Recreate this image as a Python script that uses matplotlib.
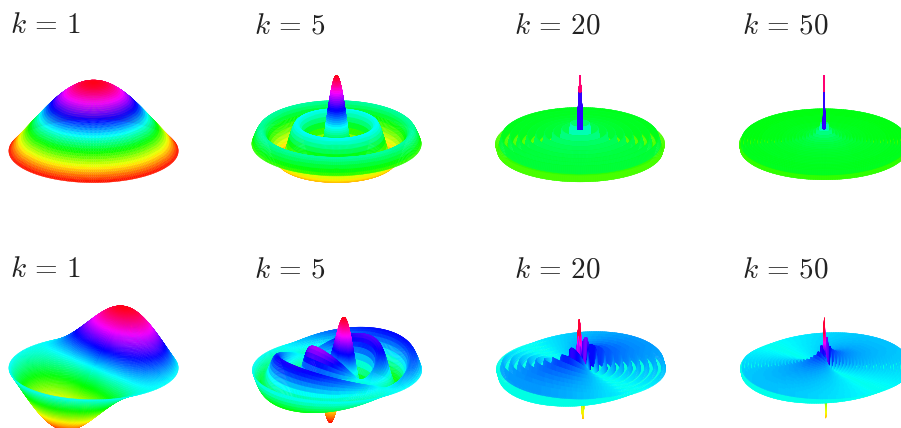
import numpy as np
import matplotlib
matplotlib.use("Agg")
import matplotlib.pyplot as plt

plt.rcParams["mathtext.fontset"] = "cm"

labels = ["1", "5", "20", "50"]

# radial profiles: ring position, height
fine_top_x = [0, .05, .1, .15, .2, .25, .3, .35, .4, .45, .5, .55, .6, .65, .7, .75, .8, .85, .9, .95, 1.0, 1.05, 1.1, 1.15, 1.2, 1.25, 1.3, 1.35, 1.4, 1.45, 1.5, 1.55, 1.6, 1.65, 1.7, 1.75, 1.8, 1.85, 1.9, 1.95, 2.0, 2.05, 2.1, 2.15, 2.2, 2.25, 2.3, 2.35, 2.405]
fine_top_z = [1, .9994, .9975, .9944, .990, .9844, .9776, .9696, .960, .9500, .9385, .9258, .912, .8972, .8812, .8642, .846, .8273, .8075, .7867, .765, .7427, .7196, .6959, .671, .6459, .6201, .5942, .567, .5402, .5118, .4838, .455, .4268, .398, .3691, .340, .3110, .2818, .2528, .224, .1951, .1666, .1383, .110, .0827, .0555, .0288, 0]

k5_top_x = fine_top_x + [2.5, 2.75, 3, 3.25, 3.5, 3.75, 4, 4.25, 4.5, 4.75, 5, 5.25, 5.5, 5.75, 6, 6.25, 6.5, 6.75, 7, 7.25, 7.5, 7.75, 8, 8.25, 8.5, 8.75, 9, 9.25, 9.5, 9.75, 10, 10.25, 10.5, 10.75, 11, 11.25, 11.5, 11.75, 12, 12.25, 12.5, 12.75, 13, 13.25, 13.5, 13.75, 14, 14.25, 14.5, 14.75, 14.93]
k5_top_z = fine_top_z + [-.0484, -.1641, -.2601, -.3318, -.3801, -.4026, -.3971, -.3690, -.3205, -.2560, -.1776, -.0933, -.0068, .0755, .1506, .2135, .2601, .2897, .3001, .2919, .2663, .2263, .1717, .1088, .0419, -.0262, -.0903, -.1476, -.1939, -.2278, -.2459, -.2476, -.2366, -.2105, -.1712, -.1222, -.0677, -.0105, .0477, .1002, .1469, .1826, .2069, .2176, .2150, .1990, .1711, .1330, .0875, .0378, 0]

ridge_top_x = [0, 1, 2, 2.7, 3.832, 7.016, 10.173, 13.324, 16.471, 19.616, 22.760, 25.904, 29.047, 32.190, 35.332, 38.475, 41.617, 44.760, 47.902, 51.044, 54.186, 57.328, 60.470]
ridge_top_z = [1, .7652, .2239, -.1424, -.4028, .3001, -.2497, .2184, -.1965, .1801, -.1672, .1567, -.1480, .1406, -.1342, .1286, -.1237, .1192, -.1152, .1116, -.1082, .1052, -.1024]
k20_top_x = ridge_top_x + [62.05]
k20_top_z = ridge_top_z + [0]

k50_top_x = ridge_top_x + [63.61, 66.75, 69.90, 73.04, 76.18, 79.32, 82.47, 85.61, 88.75, 91.89, 95.03, 98.18, 101.32, 104.46, 107.60, 110.74, 113.88, 117.03, 120.17, 123.31, 126.45, 129.59, 132.74, 135.88, 139.02, 142.16, 145.30, 148.44, 151.59, 154.73, 156.29]
k50_top_z = ridge_top_z + [.1000, -.0977, .0954, -.0934, .0914, -.0896, .0879, -.0862, .0847, -.0832, .0818, -.0805, .0793, -.0781, .0769, -.0758, .0748, -.0738, .0728, -.0719, .0710, -.0701, .0693, -.0684, .0677, -.0669, .0662, -.0655, .0648, -.0641, 0]

# where the ripples pass through zero height
top_cross = [5.52, 8.65, 11.79, 14.93, 18.07, 21.21, 24.35, 27.49, 30.63, 33.78, 36.92, 40.06, 43.20, 46.34, 49.48, 52.62, 55.77, 58.91, 62.05, 65.19, 68.33, 71.47, 74.61, 77.75, 80.89, 84.04, 87.18, 90.32, 93.46, 96.60, 99.74, 102.88, 106.03, 109.17, 112.31, 115.45, 118.59, 121.73, 124.87, 128.02, 131.16, 134.30, 137.44, 140.58, 143.72, 146.86, 150.01, 153.15]
bot_cross = [7.016, 10.173, 13.324, 16.471, 19.616, 22.760, 25.904, 29.047, 32.190, 35.332, 38.475, 41.617, 44.760, 47.902, 51.044, 54.186, 57.328, 60.470, 63.61, 66.75, 69.90, 73.04, 76.18, 79.32, 82.47, 85.61, 88.75, 91.89, 95.03, 98.18, 101.32, 104.46, 107.60, 110.74, 113.88, 117.03, 120.17, 123.31, 126.45, 129.59, 132.74, 135.88, 139.02, 142.16, 145.30, 148.44, 151.59, 154.73]

# same for the bottom row, these get the cos term across the disk
fine_bot_x = [0, .05, .1, .15, .2, .25, .3, .35, .4, .45, .5, .55, .6, .65, .7, .75, .8, .85, .9, .95, 1.0, 1.05, 1.1, 1.15, 1.2, 1.25, 1.3, 1.35, 1.4, 1.45, 1.5, 1.55, 1.6, 1.65, 1.7, 1.75, 1.8, 1.85, 1.9, 1.95, 2.0, 2.05, 2.1, 2.15, 2.2, 2.25, 2.3, 2.35, 2.4, 2.45, 2.5, 2.55, 2.6, 2.65, 2.7, 2.75, 2.8, 2.85, 2.9, 2.95, 3.0, 3.05, 3.1, 3.15, 3.2, 3.25, 3.3, 3.35, 3.4, 3.45, 3.5, 3.55, 3.6, 3.65, 3.7, 3.75, 3.832]
fine_bot_z = [0, .0250, .0499, .0746, .0995, .1239, .1483, .1722, .196, .2192, .2423, .2645, .2867, .3079, .329, .3489, .3688, .3874, .4059, .4230, .4401, .4555, .4709, .4846, .4983, .5102, .522, .5320, .5419, .5499, .5579, .5639, .5699, .5739, .5778, .5797, .5815, .5814, .5812, .5790, .5767, .5725, .5683, .5622, .556, .5480, .5399, .5301, .5202, .5087, .4971, .4840, .4708, .4562, .4416, .4257, .4097, .3926, .3754, .3573, .3391, .3200, .3009, .2811, .2613, .2410, .2207, .2000, .1792, .1583, .1374, .1165, .0955, .0747, .0538, .0325, 0]

k5_bot_x = fine_bot_x + [4, 4.25, 4.5, 4.75, 5, 5.25, 5.5, 5.75, 6, 6.25, 6.5, 6.75, 7, 7.25, 7.5, 7.75, 8, 8.25, 8.5, 8.75, 9, 9.25, 9.5, 9.75, 10, 10.25, 10.5, 10.75, 11, 11.25, 11.5, 11.75, 12, 12.25, 12.5, 12.75, 13, 13.25, 13.5, 13.75, 14, 14.25, 14.5, 14.75, 15, 15.25, 15.5, 15.75, 16, 16.25, 16.47]
k5_bot_z = fine_bot_z + [-.0660, -.1503, -.2311, -.2892, -.3276, -.3424, -.3414, -.3182, -.2767, -.2202, -.1538, -.0807, -.0047, .0683, .1352, .1910, .2346, .2613, .2731, .2677, .2453, .2083, .1613, .1054, .0435, -.0182, -.0789, -.1322, -.1768, -.2087, -.2284, -.2320, -.2234, -.2000, -.1655, -.1200, -.0703, -.0160, .0380, .0880, .1334, .1686, .1934, .2047, .2051, .1920, .1672, .1315, .0904, .0425, 0]

ridge_bot_x = [0, .9, 1.841, 2.8, 3.832, 5.331, 8.536, 11.706, 14.864, 18.016, 21.164, 24.311, 27.457, 30.602, 33.747, 36.891, 40.035, 43.179, 46.323, 49.466, 52.609, 55.752, 58.895, 62.038]
ridge_bot_z = [0, .4059, .5815, .4097, 0, -.3461, .2731, -.2333, .2070, -.1880, .1735, -.1617, .1522, -.1442, .1373, -.1313, .1261, -.1214, .1172, -.1134, .1100, -.1068, .1040, -.1013]
k20_bot_x = ridge_bot_x + [63.61]
k20_bot_z = ridge_bot_z + [0]

k50_bot_x = ridge_bot_x + [65.18, 68.32, 71.47, 74.61, 77.75, 80.89, 84.03, 87.18, 90.32, 93.46, 96.60, 99.74, 102.89, 106.03, 109.17, 112.31, 115.45, 118.60, 121.74, 124.88, 128.02, 131.16, 134.31, 137.45, 140.59, 143.73, 146.87, 150.02, 153.16, 156.30, 157.86]
k50_bot_z = ridge_bot_z + [.0988, -.0965, .0944, -.0924, .0905, -.0887, .0870, -.0855, .0840, -.0825, .0812, -.0799, .0787, -.0775, .0764, -.0753, .0742, -.0733, .0723, -.0714, .0705, -.0697, .0688, -.0681, .0673, -.0666, .0658, -.0651, .0645, -.0638, 0]

top_rings = [(fine_top_x, fine_top_z, []), (k5_top_x, k5_top_z, []), (k20_top_x, k20_top_z, top_cross), (k50_top_x, k50_top_z, top_cross)]
bot_rings = [(fine_bot_x, fine_bot_z, []), (k5_bot_x, k5_bot_z, []), (k20_bot_x, k20_bot_z, bot_cross), (k50_bot_x, k50_bot_z, bot_cross)]
bot_signs = [1, 1, -1, -1]
top_floor = [0, -.42, -.5, -.5]

W, H = 901, 428
top_centers = [(93.5, 150), (336.5, 143), (580, 143), (824, 143)]
bot_centers = [(93.5, 367), (337, 369), (581, 368), (825, 367)]
label_x = [10.5, 254.5, 513.5, 741.5]
label_y = [33, 277]

AX_PX = 300
ZOOM = 0.95
LIM = 1.0
ELEV = 22
TILT = 42  # direction of the raised lobe on the bottom row, degrees
OFF_X, OFF_Y = -4, 5  # the 3d box does not sit dead centre in its axes


def merge_cross(x, z, cross):
    cross = [c for c in cross if c < x[-1] - 0.01]
    xs = np.array(list(x) + cross, dtype=float)
    zs = np.array(list(z) + [0.0] * len(cross))
    order = np.argsort(xs)
    return xs[order], zs[order]


def draw_disk(center, rings, height, floor=None, tilt=None, sign=1):
    left = (center[0] + OFF_X - AX_PX / 2) / W
    bottom = 1 - (center[1] + OFF_Y + AX_PX / 2) / H
    ax = fig.add_axes([left, bottom, AX_PX / W, AX_PX / H], projection="3d", proj_type="ortho")
    ax.set_axis_off()
    ax.patch.set_visible(False)

    x, z = merge_cross(*rings)
    r = x / x[-1]
    th = np.radians(np.arange(0, 360.1, 1.5))
    R, T = np.meshgrid(r, th, indexing="ij")
    Z = np.outer(z, np.ones_like(th))
    if tilt is not None:
        Z = sign * Z * np.cos(T - np.radians(tilt))
    Z = Z / np.abs(Z).max()

    # plot_surface takes the first corner of each facet, so hand it something better
    corners = np.stack([Z[:-1, :-1], Z[1:, :-1], Z[:-1, 1:], Z[1:, 1:]])
    C = Z.copy()
    if tilt is not None:
        # the troughs are hidden behind the ridges from this angle
        C[:-1, :-1] = 0.75 * corners.max(axis=0) + 0.25 * corners.mean(axis=0)
    else:
        C[:-1, :-1] = 0.75 * corners.mean(axis=0) + 0.25 * Z[:-1, :-1]
    low = Z.min() if floor is None else min(floor, Z.min())
    colors = plt.cm.hsv((C - low) / (Z.max() - low) * 0.999)
    ax.plot_surface(R * np.cos(T), R * np.sin(T), Z * height, facecolors=colors, rstride=1, cstride=1,
                    shade=False, linewidth=0.25, antialiased=True)
    ax.set_xlim(-LIM, LIM)
    ax.set_ylim(-LIM, LIM)
    ax.set_zlim(-LIM, LIM)
    ax.set_box_aspect((1, 1, 1), zoom=ZOOM)
    ax.view_init(elev=ELEV, azim=-90)
    return ax


fig = plt.figure(figsize=(W / 100, H / 100), dpi=100)

for i in range(4):
    draw_disk(top_centers[i], top_rings[i], 0.87, floor=top_floor[i])
    draw_disk(bot_centers[i], bot_rings[i], 0.64, tilt=TILT, sign=bot_signs[i])
    for y in label_y:
        fig.text(label_x[i] / W, 1 - y / H, r"$k\,=\," + labels[i] + "$", fontsize=21,
                 color="#222222", va="baseline", ha="left")

fig.savefig("out.png", dpi=100)
